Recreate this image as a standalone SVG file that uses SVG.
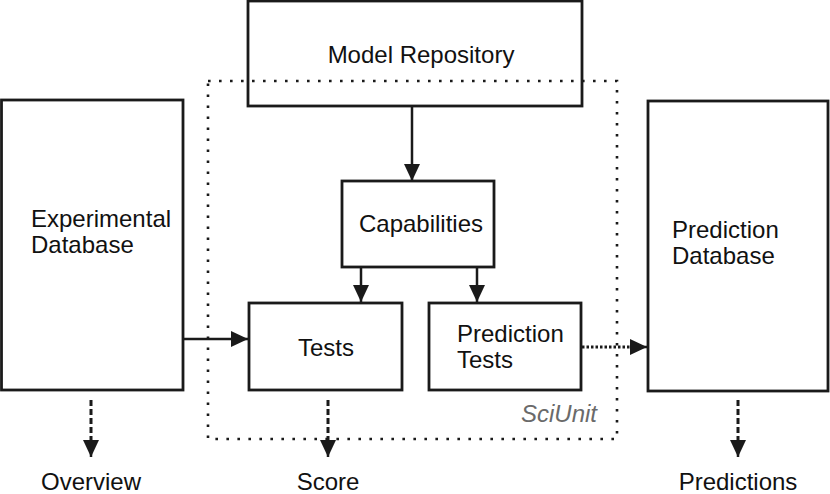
<svg xmlns="http://www.w3.org/2000/svg" width="830" height="494" viewBox="0 0 830 494">
<style>
.box{fill:none;stroke:#1a1a1a;stroke-width:2.8}
.t{font-family:"Liberation Sans",Arial,sans-serif;font-size:24px;fill:#111}
.c{text-anchor:middle}
.ln{stroke:#1a1a1a;stroke-width:2.5;fill:none}
.dash{stroke:#1a1a1a;stroke-width:3;stroke-dasharray:6 3;fill:none}
.dot{stroke:#1a1a1a;stroke-width:3;stroke-dasharray:2.5 2;fill:none}
.frame{stroke:#1a1a1a;stroke-width:2.6;stroke-dasharray:2.6 8.4;fill:none}
</style>
<defs>
<marker id="ah" viewBox="0 0 17 16" refX="17" refY="8" markerWidth="17" markerHeight="16" markerUnits="userSpaceOnUse" orient="auto">
<path d="M0,0 L17,8 L0,16 Z" fill="#1a1a1a"/>
</marker>
</defs>
<rect width="830" height="494" fill="#fff"/>
<g id="sciunit">
<rect class="frame" x="208" y="81" width="409" height="358"/>
<text x="597" y="422" font-family="'Liberation Sans',Arial,sans-serif" font-size="24" font-style="italic" fill="#6a6a6a" text-anchor="end">SciUnit</text>
</g>
<g id="model-repository">
<rect class="box" x="248" y="1" width="334" height="105"/>
<text class="t c" x="421" y="63">Model Repository</text>
</g>
<g id="experimental-database">
<rect class="box" x="1.5" y="100" width="181.5" height="290"/>
<text class="t" x="31" y="227">Experimental</text>
<text class="t" x="31" y="253">Database</text>
</g>
<g id="capabilities">
<rect class="box" x="342" y="181" width="152" height="86"/>
<text class="t c" x="421" y="232">Capabilities</text>
</g>
<g id="tests">
<rect class="box" x="249" y="303" width="153" height="87"/>
<text class="t c" x="326" y="356">Tests</text>
</g>
<g id="prediction-tests">
<rect class="box" x="429" y="303" width="152" height="87"/>
<text class="t" x="457" y="342">Prediction</text>
<text class="t" x="457" y="368">Tests</text>
</g>
<g id="prediction-database">
<rect class="box" x="648" y="101" width="180" height="290"/>
<text class="t" x="672" y="238">Prediction</text>
<text class="t" x="672" y="264">Database</text>
</g>
<g id="overview"><text class="t c" x="91" y="490">Overview</text></g>
<g id="score"><text class="t c" x="328" y="490">Score</text></g>
<g id="predictions"><text class="t c" x="738" y="490">Predictions</text></g>
<g id="connectors">
<line class="ln" x1="412" y1="107" x2="412" y2="181" marker-end="url(#ah)"/>
<line class="ln" x1="361" y1="268" x2="361" y2="302" marker-end="url(#ah)"/>
<line class="ln" x1="477" y1="268" x2="477" y2="302" marker-end="url(#ah)"/>
<line class="ln" x1="183" y1="339" x2="248" y2="339" marker-end="url(#ah)"/>
<line class="dot" x1="582" y1="347" x2="633" y2="347"/>
<line class="ln" x1="630" y1="347" x2="647" y2="347" marker-end="url(#ah)" stroke-width="0"/>
<line class="dash" x1="91" y1="400" x2="91" y2="443"/>
<line class="ln" x1="91" y1="440" x2="91" y2="457" marker-end="url(#ah)" stroke-width="0"/>
<line class="dash" x1="328" y1="400" x2="328" y2="443"/>
<line class="ln" x1="328" y1="440" x2="328" y2="457" marker-end="url(#ah)" stroke-width="0"/>
<line class="dash" x1="738" y1="400" x2="738" y2="443"/>
<line class="ln" x1="738" y1="440" x2="738" y2="457" marker-end="url(#ah)" stroke-width="0"/>
</g>
</svg>
